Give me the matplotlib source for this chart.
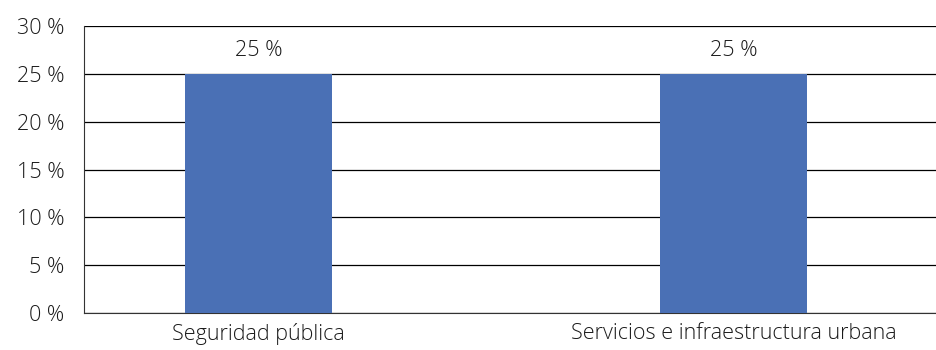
import matplotlib.pyplot as plt

categorias = ["Seguridad pública", "Servicios e infraestructura urbana"]
valores = [25, 25]
yticks = [0, 5, 10, 15, 20, 25, 30]

plt.rcParams['font.family'] = ['Open Sans', 'DejaVu Sans']
plt.rcParams['font.weight'] = 'light'

fig = plt.figure(figsize=(9.36, 3.5), dpi=100)
ax = fig.add_axes([84 / 936, 1 - 313 / 350, (936 - 84) / 936, (313 - 26) / 350])

x = list(range(len(categorias)))
bars = ax.bar(x, valores, width=0.31, color="#4A70B5", zorder=3)
for b, v in zip(bars, valores):
    ax.text(b.get_x() + b.get_width() / 2, v + 1.3, f"{v} %", ha="center", va="bottom",
            fontsize=15.5, color="#1a1a1a")

ax.set_xlim(-0.368, 1.426)
ax.set_ylim(0, 30)
ax.set_yticks(yticks)
ax.set_yticklabels([f"{t} %" for t in yticks], fontsize=15.5, color="#1a1a1a")
ax.set_xticks(x)
ax.set_xticklabels(categorias, fontsize=15.5, color="#1a1a1a")
ax.tick_params(axis="y", length=0, pad=14)
ax.tick_params(axis="x", length=0, pad=7)

ax.grid(axis="y", color="black", linewidth=0.9, zorder=0)
for s in ["top", "right"]:
    ax.spines[s].set_visible(False)
ax.spines["left"].set_color("#333333")
ax.spines["bottom"].set_color("#333333")

fig.savefig("out.png", dpi=100)
